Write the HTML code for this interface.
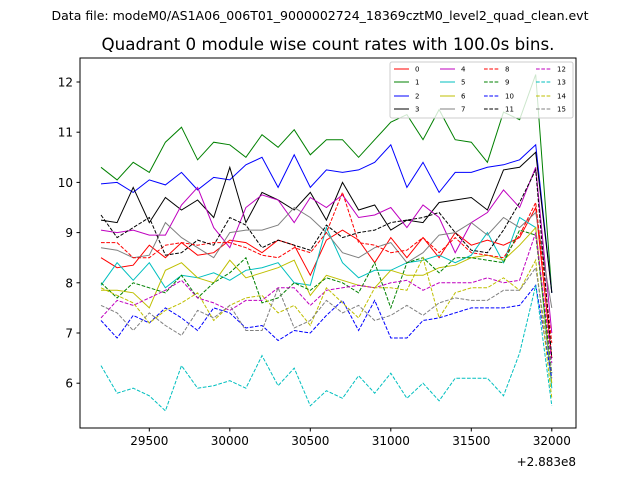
<!DOCTYPE html>
<html><head><meta charset="utf-8"><style>
body{margin:0;background:#fff;font-family:"Liberation Sans","DejaVu Sans",sans-serif}
svg text{font-family:"DejaVu Sans","Liberation Sans",sans-serif}
</style></head><body>
<svg id="chart" width="640" height="480" xmlns="http://www.w3.org/2000/svg">
<rect width="640" height="480" fill="#fff"/>
<text x="320" y="20" font-size="12.4" text-anchor="middle" textLength="537" lengthAdjust="spacingAndGlyphs">Data file: modeM0/AS1A06_006T01_9000002724_18369cztM0_level2_quad_clean.evt</text>
<text x="328" y="50" font-size="16.5" text-anchor="middle" textLength="453" lengthAdjust="spacingAndGlyphs">Quadrant 0 module wise count rates with 100.0s bins.</text>
<g id="series"></g>
<rect x="80" y="58" width="496" height="370" fill="none" stroke="#000" stroke-width="1"/>
<g id="axes"></g>
<text x="576" y="466" font-size="12" text-anchor="end">+2.883e8</text>
<g id="legend"></g>
</svg>
<script>
const xStart = 29200, xStep = 100;
const xTicks = [29500, 30000, 30500, 31000, 31500, 32000];
const yTicks = [6, 7, 8, 9, 10, 11, 12];
const s0 = [8.5,8.3,8.35,8.75,8.5,8.8,8.55,8.6,8.85,8.8,8.6,8.85,8.75,8.15,8.85,9.05,8.85,8.4,8.9,8.5,8.9,8.5,9.0,8.75,8.85,8.75,8.9,9.5,6.5];
const s1 = [10.3,10.05,10.4,10.2,10.8,11.1,10.45,10.8,10.75,10.5,10.95,10.7,11.05,10.55,10.85,10.85,10.5,10.85,11.2,11.35,10.85,11.45,10.85,10.8,10.4,11.4,11.25,12.15,7.8];
const s2 = [9.97,10.0,9.8,10.05,9.95,10.2,9.85,10.1,10.05,10.35,10.5,9.9,10.55,9.9,10.25,10.2,10.25,10.4,10.75,9.9,10.4,9.8,10.2,10.2,10.3,10.35,10.45,10.75,7.8];
const s3 = [9.25,9.2,9.9,9.2,9.7,9.45,9.65,9.3,10.3,9.2,9.8,9.65,9.45,9.8,9.25,10.0,9.45,9.55,9.05,9.25,9.2,9.6,9.65,9.7,9.45,10.25,10.3,10.6,7.8];
const s4 = [9.05,9.0,9.05,8.95,8.95,9.55,9.9,9.1,8.7,9.5,9.75,9.65,9.2,9.7,9.5,9.75,9.3,9.35,9.5,9.1,9.55,9.3,8.6,9.2,9.4,9.85,9.5,10.3,7.0];
const s5 = [7.95,8.4,8.05,8.4,7.9,8.15,8.1,8.2,8.05,8.25,8.3,8.4,8.0,7.95,9.1,8.4,8.1,8.25,8.25,8.4,8.45,8.55,8.4,8.55,9.0,8.4,9.3,9.1,5.9];
const s6 = [7.85,7.85,7.8,7.5,8.25,8.4,8.1,8.0,8.45,8.1,8.2,8.3,8.45,7.75,8.15,8.05,7.95,7.9,8.25,8.15,8.15,8.3,8.35,8.5,8.55,8.45,8.75,9.1,6.0];
const s7 = [8.7,8.65,8.5,8.55,9.2,8.9,8.7,8.5,9.0,9.05,9.05,9.15,9.5,9.3,9.0,8.6,8.5,8.7,8.8,8.4,8.6,8.95,9.0,9.2,8.95,9.3,9.1,9.4,7.5];
const s8 = [8.8,8.8,8.5,8.5,8.75,8.8,8.75,8.8,8.8,8.7,8.55,8.5,8.7,8.6,9.0,9.8,8.8,8.75,8.6,8.65,8.9,8.6,8.9,8.6,8.55,8.5,8.95,9.6,6.8];
const s9 = [8.0,7.7,8.0,7.9,7.8,8.15,7.7,8.0,8.2,8.5,7.6,7.7,8.0,7.85,8.1,8.0,7.8,8.4,7.5,8.4,8.5,8.2,8.5,8.5,8.45,8.4,9.05,8.95,6.2];
const s10 = [7.25,6.9,7.35,7.2,7.5,7.3,7.05,7.5,7.4,7.1,7.15,6.85,7.05,7.0,7.35,7.65,7.05,7.65,6.9,6.9,7.25,7.3,7.4,7.5,7.5,7.5,7.55,7.95,6.1];
const s11 = [9.35,8.9,9.1,9.3,8.55,8.6,8.85,8.75,9.3,9.15,8.7,8.85,8.75,8.65,9.15,8.9,9.0,9.05,9.2,9.25,9.3,9.4,9.0,8.65,8.6,9.05,9.6,10.25,6.5];
const s12 = [7.3,7.65,7.55,7.7,7.85,8.05,7.7,7.6,7.45,7.65,7.65,7.9,7.9,7.55,7.85,7.9,7.95,7.9,8.0,8.05,7.85,8.0,8.0,8.0,8.1,8.0,8.05,9.0,6.4];
const s13 = [6.35,5.8,5.9,5.75,5.45,6.35,5.9,5.95,6.05,5.9,6.55,5.95,6.3,5.55,5.85,5.7,6.15,5.8,6.2,5.7,6.0,5.65,6.1,6.1,6.1,5.75,6.6,7.95,5.55];
const s14 = [7.9,7.75,7.6,7.2,7.45,7.6,7.8,7.25,7.55,7.7,7.75,7.4,7.55,7.15,7.9,7.6,7.3,7.9,7.9,7.85,8.5,7.3,7.8,7.9,7.9,8.1,7.85,8.45,5.7];
const s15 = [7.55,7.4,7.05,7.4,7.15,6.95,7.45,7.3,7.55,7.05,7.05,7.9,7.1,7.25,7.65,7.4,7.55,7.25,7.35,7.55,7.35,7.6,7.7,7.65,7.65,7.85,7.85,8.3,6.2];
const seriesNames = ["0","1","2","3","4","5","6","7","8","9","10","11","12","13","14","15"];

const NS = "http://www.w3.org/2000/svg";
const allSeries = [s0,s1,s2,s3,s4,s5,s6,s7,s8,s9,s10,s11,s12,s13,s14,s15];
const colors = ["#ff0000","#008000","#0000ff","#000000","#bf00bf","#00bfbf","#bfbf00","#808080"];
const xPx = v => 101 + (v - 29200) * 0.161;
const yPx = v => 82 + (12 - v) * 50.2;

const gs = document.getElementById('series');
allSeries.forEach((arr, i) => {
  const pts = arr.map((v, k) => xPx(xStart + k * xStep).toFixed(1) + ',' + yPx(v).toFixed(1)).join(' ');
  const pl = document.createElementNS(NS, 'polyline');
  pl.setAttribute('points', pts);
  pl.setAttribute('fill', 'none');
  pl.setAttribute('stroke', colors[i % 8]);
  pl.setAttribute('stroke-width', '1');
  if (i >= 8) pl.setAttribute('stroke-dasharray', '3.7,1.6');
  
  
  gs.appendChild(pl);
});

const ga = document.getElementById('axes');
xTicks.forEach(t => {
  const x = xPx(t);
  const ln = document.createElementNS(NS, 'line');
  ln.setAttribute('x1', x); ln.setAttribute('x2', x);
  ln.setAttribute('y1', 428); ln.setAttribute('y2', 431.5);
  ln.setAttribute('stroke', '#000');
  
  
  ga.appendChild(ln);
  const tx = document.createElementNS(NS, 'text');
  tx.setAttribute('x', x); tx.setAttribute('y', 445);
  tx.setAttribute('font-size', '12'); tx.setAttribute('text-anchor', 'middle');
  tx.textContent = t;
  
  
  ga.appendChild(tx);
});
yTicks.forEach(t => {
  const y = yPx(t);
  const ln = document.createElementNS(NS, 'line');
  ln.setAttribute('x1', 76.5); ln.setAttribute('x2', 80);
  ln.setAttribute('y1', y); ln.setAttribute('y2', y);
  ln.setAttribute('stroke', '#000');
  
  
  ga.appendChild(ln);
  const tx = document.createElementNS(NS, 'text');
  tx.setAttribute('x', 73); tx.setAttribute('y', y + 4.5);
  tx.setAttribute('font-size', '12'); tx.setAttribute('text-anchor', 'end');
  tx.textContent = t;
  
  
  ga.appendChild(tx);
});

const gl = document.getElementById('legend');
const box = document.createElementNS(NS, 'rect');
box.setAttribute('x', 390); box.setAttribute('y', 62);
box.setAttribute('width', 183); box.setAttribute('height', 56);
box.setAttribute('rx', 2);
box.setAttribute('fill', '#fff'); box.setAttribute('fill-opacity', '0.8');
box.setAttribute('stroke', '#ccc');


gl.appendChild(box);
const colX = [394, 440, 484, 536];
const rowY = [69, 82, 96, 109];
seriesNames.forEach((n, i) => {
  const c = Math.floor(i / 4), r = i % 4;
  const ln = document.createElementNS(NS, 'line');
  ln.setAttribute('x1', colX[c]); ln.setAttribute('x2', colX[c] + 15);
  ln.setAttribute('y1', rowY[r]); ln.setAttribute('y2', rowY[r]);
  ln.setAttribute('stroke', colors[i % 8]);
  if (i >= 8) ln.setAttribute('stroke-dasharray', '3.7,1.6');
  
  
  gl.appendChild(ln);
  const tx = document.createElementNS(NS, 'text');
  tx.setAttribute('x', colX[c] + 21); tx.setAttribute('y', rowY[r] + 2.5);
  tx.setAttribute('font-size', '7');
  tx.textContent = n;
  
  
  gl.appendChild(tx);
});
</script>
</body></html>
